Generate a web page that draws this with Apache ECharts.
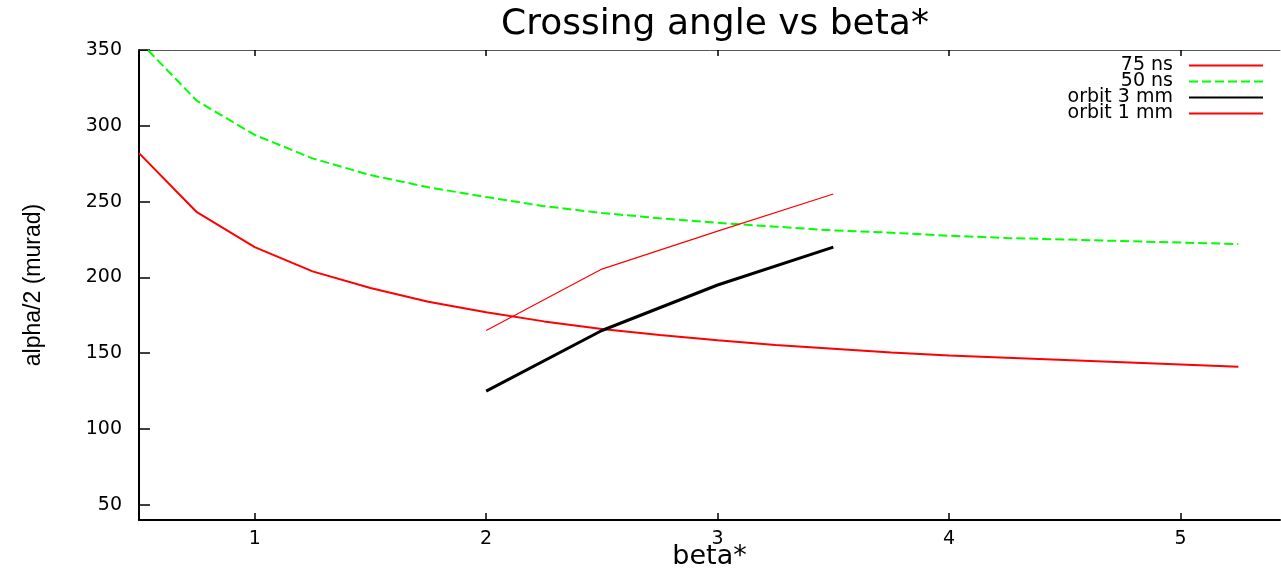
<!DOCTYPE html>
<html>
<head>
<meta charset="utf-8">
<script src="https://cdn.jsdelivr.net/npm/echarts@6/dist/echarts.min.js"></script>
<style>
html,body{margin:0;padding:0;background:#fff;}
#c{width:1281px;height:569px;}
</style>
</head>
<body>
<div id="c"></div>
<script>
const betaFine = [0.5,0.75,1.0,1.25,1.5,1.75,2.0,2.25,2.5,2.75,3.0,3.25,3.5,3.75,4.0,4.25,4.5,4.75,5.0,5.25];
const ns75 = [282,243,220,204,193,184,177,171,166,162,158.5,155.5,153,150.5,148.5,147,145.5,144,142.5,141];
const ns50 = [356,316.5,294,278.5,267.5,259.5,253,247,242.5,239,236,233.5,231,229.5,227.5,226,225,224,223,222];
const betaOrbit = [2.0,2.5,3.0,3.5];
const orbit3 = [125,165,195,220];
const orbit1 = [165,205.5,230.5,255];
const xTicks = [1,2,3,4,5];
const yTicks = [50,100,150,200,250,300,350];

const pairs = (xs, ys) => xs.map((x,i)=>[x, ys[i]]);
const FONT = '"DejaVu Sans", Verdana, sans-serif';
const FONT2 = '"Liberation Sans", Arial, sans-serif';

const chart = echarts.init(document.getElementById('c'), null, {renderer:'canvas'});
chart.setOption({
  animation:false,
  backgroundColor:'#fff',
  title:{
    text:'Crossing angle vs beta*',
    left:710, top:2, textAlign:'center',
    textStyle:{fontFamily:FONT, fontSize:36, fontWeight:'normal', color:'#000'}
  },
  legend:{
    orient:'vertical', right:17, top:56, padding:0,
    align:'right', itemWidth:74, itemHeight:14, itemGap:-3,
    itemStyle:{color:'transparent', borderColor:'transparent', borderWidth:0, opacity:0},
    textStyle:{fontFamily:FONT, fontSize:19, lineHeight:16, color:'#000', padding:[0,11,0,0]},
    data:['75 ns','50 ns','orbit 3 mm','orbit 1 mm']
  },
  grid:{left:139, right:1, top:50, bottom:49, containLabel:false, outerBoundsMode:'none'},
  xAxis:[{
    type:'value', min:0.5, max:5.43, position:'bottom',
    name:'beta*', nameLocation:'middle', nameGap:23, nameMoveOverlap:false,
    nameTextStyle:{fontFamily:FONT, fontSize:27, color:'#000'},
    axisLine:{show:true, onZero:false, lineStyle:{color:'#000', width:2}},
    axisTick:{show:true, inside:true, length:7, customValues:xTicks, lineStyle:{color:'#000', width:1.5}},
    axisLabel:{customValues:xTicks, margin:10, fontFamily:FONT, fontSize:19, color:'#000'},
    splitLine:{show:false}
  },{
    type:'value', min:0.5, max:5.43, position:'top',
    axisLine:{show:true, onZero:false, lineStyle:{color:'#555', width:1}},
    axisTick:{show:true, inside:true, length:6, customValues:xTicks, lineStyle:{color:'#000', width:1.5}},
    axisLabel:{show:false},
    splitLine:{show:false}
  }],
  yAxis:{
    type:'value', min:40, max:350,
    name:'alpha/2 (murad)', nameLocation:'middle', nameGap:94, nameRotate:90, nameMoveOverlap:false,
    nameTextStyle:{fontFamily:FONT2, fontSize:23, color:'#000'},
    axisLine:{show:true, onZero:false, lineStyle:{color:'#000', width:2}},
    axisTick:{show:true, inside:true, length:11, customValues:yTicks, lineStyle:{color:'#000', width:1.5}},
    axisLabel:{customValues:yTicks, margin:17, fontFamily:FONT, fontSize:19, color:'#000'},
    splitLine:{show:false}
  },
  series:[
    {name:'75 ns', type:'line', data:pairs(betaFine, ns75), symbol:'none', color:'#ff0000',
     lineStyle:{color:'#ff0000', width:2}},
    {name:'50 ns', type:'line', data:pairs(betaFine, ns50), symbol:'none', color:'#00ff00',
     lineStyle:{color:'#00ff00', width:2, type:[9,4]}},
    {name:'orbit 3 mm', type:'line', data:pairs(betaOrbit, orbit3), symbol:'none', color:'#000000',
     lineStyle:{color:'#000000', width:3}},
    {name:'orbit 1 mm', type:'line', data:pairs(betaOrbit, orbit1), symbol:'none', color:'#ff0000',
     lineStyle:{color:'#ff0000', width:1.2}}
  ]
});
</script>
</body>
</html>
